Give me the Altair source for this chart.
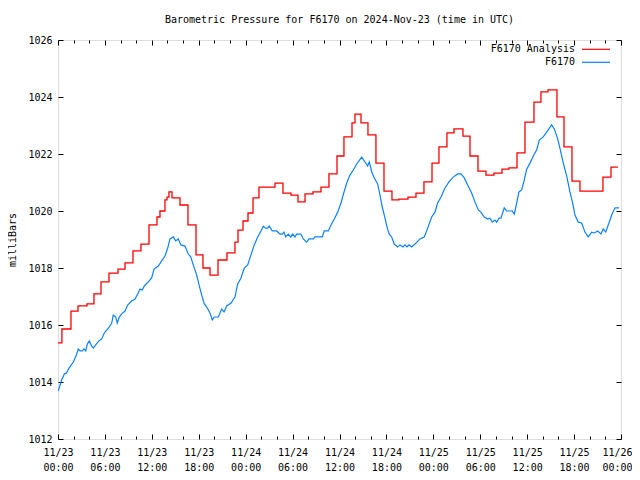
import altair as alt
import pandas as pd

# Analysis (red, step) change points: hours since 2024-11-23 00:00 UTC, pressure in mb
red_hours = [0.0, 0.5, 1.66, 2.56, 3.71, 4.60, 5.50, 6.52, 7.67, 8.57, 9.59, 10.61, 11.64,
             12.66, 13.04, 13.68, 13.94, 14.19, 14.58, 15.60, 16.62, 17.65, 18.54, 19.44,
             20.46, 21.61, 22.63, 23.02, 23.66, 24.30, 24.94, 25.70, 27.75, 28.77, 29.80,
             30.69, 31.59, 32.61, 33.63, 34.65, 35.68, 36.57, 37.60, 37.98, 38.75, 39.64,
             40.66, 41.69, 42.71, 43.61, 44.76, 45.78, 46.80, 47.83, 48.72, 49.74, 50.64,
             51.79, 52.69, 53.71, 54.73, 55.75, 56.78, 57.67, 58.70, 59.72, 60.87, 61.76,
             62.66, 63.81, 64.71, 65.73, 66.75, 69.69, 70.72, 71.6]
red_values = [1015.37, 1015.86, 1016.49, 1016.67, 1016.74, 1017.09, 1017.51, 1017.82, 1017.96,
              1018.18, 1018.60, 1018.84, 1019.51, 1019.79, 1020.00, 1020.39, 1020.49, 1020.67,
              1020.46, 1020.21, 1019.51, 1018.46, 1018.00, 1017.75, 1018.28, 1018.53, 1018.91,
              1019.33, 1019.65, 1019.93, 1020.46, 1020.84, 1020.98, 1020.63, 1020.56, 1020.32,
              1020.60, 1020.67, 1020.84, 1021.30, 1021.93, 1022.60, 1023.09, 1023.40, 1023.09,
              1022.67, 1021.68, 1020.70, 1020.39, 1020.42, 1020.49, 1020.63, 1021.02, 1021.68,
              1022.25, 1022.74, 1022.88, 1022.63, 1021.93, 1021.40, 1021.26, 1021.33, 1021.47,
              1021.51, 1022.04, 1023.12, 1023.82, 1024.18, 1024.25, 1023.30, 1022.25, 1021.05,
              1020.70, 1021.19, 1021.54, 1021.54]

# Station observations (blue)
blue_hours = [0.04, 0.47, 0.81, 1.11, 1.41, 1.96, 2.30, 2.60, 2.81, 3.11, 3.32, 3.54, 3.75, 4.00,
              4.31, 4.51, 4.82, 5.24, 5.59, 5.92, 6.23, 6.56, 6.87, 7.07, 7.38, 7.58, 7.84, 8.15,
              8.57, 8.91, 9.42, 9.85, 10.19, 10.49, 10.78, 11.04, 11.55, 11.98, 12.28, 12.83,
              13.26, 13.68, 14.03, 14.32, 14.74, 15.05, 15.38, 15.73, 16.24, 16.66, 16.97, 17.30,
              17.74, 18.07, 18.38, 18.71, 19.02, 19.44, 19.73, 19.99, 20.50, 20.93, 21.23, 21.57,
              22.12, 22.63, 22.98, 23.40, 23.82, 24.26, 24.68, 25.10, 25.54, 25.96, 26.25, 26.56,
              26.82, 27.02, 27.40, 27.97, 28.39, 28.68, 28.90, 29.12, 29.45, 29.76, 30.01, 30.31,
              30.52, 31.07, 31.37, 31.80, 32.10, 32.65, 32.86, 33.80, 34.05, 34.57, 34.91, 35.33,
              35.77, 36.19, 36.61, 36.92, 37.34, 37.76, 38.20, 38.84, 39.26, 39.60, 39.81, 40.12,
              40.45, 40.88, 41.18, 41.47, 41.82, 42.11, 42.37, 42.67, 43.00, 43.44, 43.73, 44.12,
              44.37, 44.63, 44.88, 45.23, 45.65, 46.29, 46.84, 47.28, 47.79, 48.21, 48.55, 48.98,
              49.49, 50.00, 50.55, 51.11, 51.53, 51.96, 52.39, 52.90, 53.32, 53.75, 54.09, 54.51,
              54.95, 55.24, 55.54, 55.88, 56.10, 56.39, 56.65, 57.07, 57.38, 58.09, 58.35, 58.66,
              58.95, 59.30, 59.63, 59.94, 60.36, 60.78, 61.21, 61.55, 62.06, 62.49, 63.13, 63.47,
              63.90, 64.19, 64.62, 65.05, 65.47, 65.82, 66.11, 66.53, 66.97, 67.39, 67.81, 68.25,
              68.58, 69.02, 69.44, 69.73, 70.04, 70.46, 70.81, 71.23, 71.74]
blue_values = [1013.69, 1014.07, 1014.28, 1014.32, 1014.49, 1014.70, 1014.91, 1015.16, 1015.09,
               1015.09, 1015.16, 1015.09, 1015.33, 1015.44, 1015.26, 1015.19, 1015.30, 1015.44,
               1015.51, 1015.72, 1015.82, 1015.93, 1016.07, 1016.35, 1016.28, 1016.07, 1016.28,
               1016.39, 1016.49, 1016.70, 1016.84, 1016.91, 1017.09, 1017.26, 1017.23, 1017.37,
               1017.51, 1017.65, 1017.96, 1018.07, 1018.25, 1018.42, 1018.70, 1019.02, 1019.09,
               1018.95, 1019.02, 1018.81, 1018.77, 1018.49, 1018.39, 1018.11, 1017.75, 1017.37,
               1017.05, 1016.74, 1016.63, 1016.42, 1016.18, 1016.28, 1016.28, 1016.56, 1016.46,
               1016.67, 1016.77, 1016.98, 1017.44, 1017.65, 1018.00, 1018.11, 1018.46, 1018.81,
               1019.09, 1019.30, 1019.47, 1019.40, 1019.40, 1019.47, 1019.30, 1019.30, 1019.19,
               1019.19, 1019.26, 1019.09, 1019.19, 1019.09, 1019.19, 1019.09, 1019.19, 1019.19,
               1019.02, 1018.91, 1019.02, 1019.02, 1019.09, 1019.09, 1019.30, 1019.30, 1019.51,
               1019.72, 1019.96, 1020.28, 1020.70, 1020.98, 1021.26, 1021.44, 1021.65, 1021.89,
               1021.72, 1021.58, 1021.72, 1021.37, 1021.16, 1020.95, 1020.56, 1020.14, 1019.75,
               1019.40, 1019.19, 1019.09, 1018.84, 1018.74, 1018.81, 1018.74, 1018.81, 1018.74,
               1018.81, 1018.74, 1018.84, 1019.02, 1019.09, 1019.40, 1019.79, 1019.96, 1020.28,
               1020.49, 1020.81, 1021.02, 1021.19, 1021.30, 1021.30, 1021.16, 1020.91, 1020.63,
               1020.32, 1020.04, 1019.96, 1019.79, 1019.72, 1019.75, 1019.61, 1019.68, 1019.61,
               1019.75, 1019.75, 1020.11, 1020.00, 1020.00, 1019.89, 1020.28, 1020.67, 1020.74,
               1021.09, 1021.47, 1021.68, 1021.93, 1022.14, 1022.49, 1022.60, 1022.77, 1023.02,
               1022.88, 1022.53, 1022.21, 1021.68, 1021.23, 1020.67, 1020.28, 1019.86, 1019.61,
               1019.58, 1019.26, 1019.09, 1019.26, 1019.23, 1019.30, 1019.19, 1019.37, 1019.26,
               1019.58, 1019.86, 1020.11, 1020.11]

x_label_hours = list(range(0, 73, 6))
x_tick_hours = list(range(0, 73, 2))
y_tick_values = list(range(1012, 1027, 2))
series_names = ["F6170 Analysis", "F6170"]
series_colors = ["#ff0000", "#0a80ff"]
title_text = "Barometric Pressure for F6170 on 2024-Nov-23 (time in UTC)"

W, H = 563, 399
FONT = "DejaVu Sans Mono"

red_df = pd.DataFrame({"hour": red_hours, "mb": red_values})
blue_df = pd.DataFrame({"hour": blue_hours, "mb": blue_values})
one = pd.DataFrame({"a": [0]})

xscale = alt.Scale(domain=[0, 72], nice=False, zero=False)
yscale = alt.Scale(domain=[1012, 1026], nice=False, zero=False)

label_expr = ("['11/' + (23 + floor(datum.value / 24)), "
              "(datum.value % 24 < 10 ? '0' : '') + (datum.value % 24) + ':00']")

x_tick_size = {"condition": {"test": "datum.value % 6 == 0", "value": 5}, "value": 3}
last_label_shift = {"condition": {"test": "datum.value == 72", "value": -4}, "value": 0}

red = alt.Chart(red_df).mark_line(
    color=series_colors[0], strokeWidth=1.3, interpolate="step-after"
).encode(
    x=alt.X("hour:Q", scale=xscale, axis=alt.Axis(
        orient="bottom", values=x_label_hours, labelExpr=label_expr, ticks=False,
        tickSize=0, domain=False, grid=False, labelPadding=8, labelLineHeight=15,
        labelFont=FONT, labelFontSize=10, labelColor="black", title=None,
        labelFlush=False, labelOverlap=False, labelOffset=last_label_shift)),
    y=alt.Y("mb:Q", scale=yscale, axis=alt.Axis(
        orient="left", values=y_tick_values, format="d", ticks=False, tickSize=0,
        domain=False, grid=False, labelPadding=6, labelFont=FONT, labelFontSize=10,
        labelColor="black", title="milliBars", titleFont=FONT, titleFontSize=10,
        titleFontWeight="normal", titleColor="black", titlePadding=10, labelFlush=False)),
)

blue = alt.Chart(blue_df).mark_line(
    color=series_colors[1], strokeWidth=1.2
).encode(
    x=alt.X("hour:Q", scale=xscale, axis=alt.Axis(
        orient="top", offset=-H, values=x_tick_hours, labels=False, domain=False,
        grid=False, tickSize=x_tick_size, tickColor="black", title=None)),
    y=alt.Y("mb:Q", scale=yscale, axis=alt.Axis(
        orient="right", offset=-W, values=y_tick_values, labels=False, domain=False,
        grid=False, tickSize=5, tickColor="black", title=None)),
)

ghost = alt.Chart(blue_df).mark_line(opacity=0).encode(
    x=alt.X("hour:Q", scale=xscale, axis=alt.Axis(
        orient="bottom", offset=-H, values=x_tick_hours, labels=False, domain=False,
        grid=False, tickSize=x_tick_size, tickColor="black", title=None)),
    y=alt.Y("mb:Q", scale=yscale, axis=alt.Axis(
        orient="left", offset=-W, values=y_tick_values, labels=False, domain=False,
        grid=False, tickSize=5, tickColor="black", title=None)),
)

legend_layers = []
for i, (name, col) in enumerate(zip(series_names, series_colors)):
    yy = 9.3 + 13 * i
    legend_layers.append(
        alt.Chart(one).mark_text(align="right", baseline="middle", font=FONT,
                                 fontSize=10, color="black").encode(
            x=alt.value(W - 46), y=alt.value(yy), text=alt.value(name)))
    legend_layers.append(
        alt.Chart(one).mark_rule(color=col, strokeWidth=1.2).encode(
            x=alt.value(W - 39), x2=alt.value(W - 11), y=alt.value(yy)))

chart = alt.layer(red, blue, ghost, *legend_layers).resolve_axis(
    x="independent", y="independent"
).properties(
    width=W, height=H,
    padding={"left": 50, "top": 32, "right": 11, "bottom": 34},
    autosize=alt.AutoSizeParams(type="none"),
    title=alt.Title(title_text, font=FONT, fontSize=10, fontWeight="normal",
                    color="black", offset=10, anchor="middle", frame="group"),
).configure_view(stroke="black", strokeWidth=1).configure(background="white")

chart.save("out.html", embed_options={"renderer": "svg", "actions": False})
